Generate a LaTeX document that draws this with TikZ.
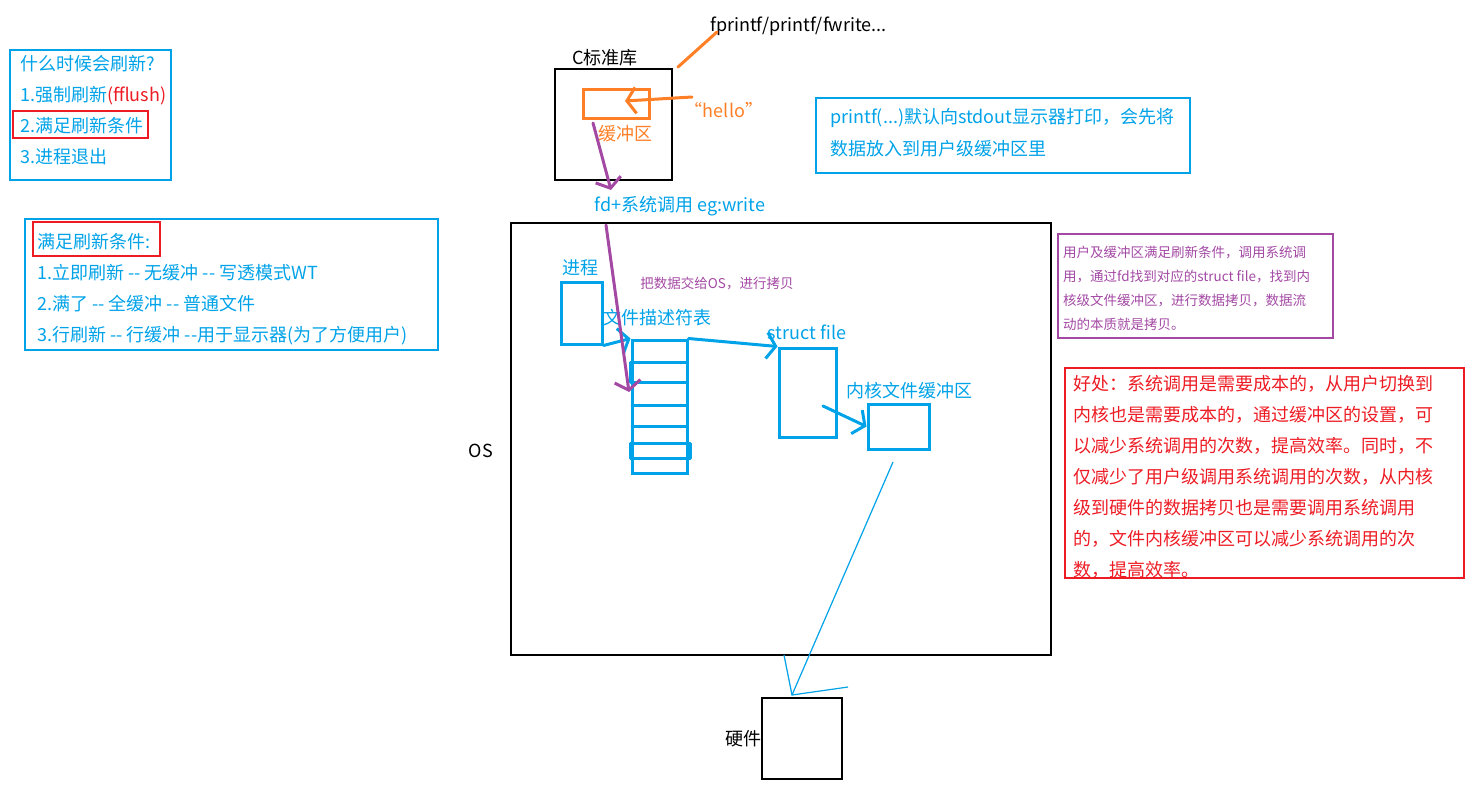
\documentclass[tikz,border=0pt]{standalone}
\usepackage{fontspec}
\setmainfont{Noto Sans CJK SC}
\usetikzlibrary{arrows.meta}
\definecolor{inkblue}{RGB}{0,162,232}
\definecolor{inkorange}{RGB}{255,127,39}
\definecolor{inkpurple}{RGB}{163,73,164}
\definecolor{inkred}{RGB}{237,28,36}
\newcommand\dd{-{}-}
\tikzset{
  memo/.style={anchor=north west,inner sep=0pt,align=left,font=\fontsize{18}{31}\selectfont},
  smallmemo/.style={anchor=north west,inner sep=0pt,align=left,font=\fontsize{13.5}{24}\selectfont},
  label/.style={inner sep=0pt,font=\fontsize{18}{22}\selectfont},
  thinbox/.style={draw,line width=1.2pt,inner sep=0pt},
  pen/.style={line width=3pt,line join=round,line cap=round},
  barb/.style={-{Straight Barb[length=9pt,width=26pt]}},
}
\begin{document}
\begin{tikzpicture}[x=1pt,y=-1pt]
\useasboundingbox (0,0) rectangle (1480,800);
\draw[inkblue,line width=1.2pt] (10,50) rectangle (171,180);
\node[memo,text=inkblue] (when) at (20,55) {什么时候会刷新?\\1.强制刷新{\color{inkred}(fflush)}\\2.满足刷新条件\\3.进程退出};
\draw[inkred,line width=1.2pt] (13,111) rectangle (148,138);
\draw[inkblue,line width=1.2pt] (25,219) rectangle (438,350);
\node[memo,text=inkblue] (cond) at (37,233) {满足刷新条件:\\1.立即刷新 \dd{} 无缓冲 \dd{} 写透模式WT\\2.满了 \dd{} 全缓冲 \dd{} 普通文件\\3.行刷新 \dd{} 行缓冲 \dd{}用于显示器(为了方便用户)};
\draw[inkred,line width=1.2pt] (33,222) rectangle (160,256);
\node[label,anchor=west] (funcs) at (710,26) {fprintf/printf/fwrite...};
\node[label] (clibname) at (605,58) {C标准库};
\node[thinbox,minimum width=117,minimum height=111] (clib) at (613.5,124.5) {};
\node[draw=inkorange,line width=3pt,inner sep=0pt,minimum width=66,minimum height=29] (buf) at (616,103.5) {};
\node[label,text=inkorange] (bufname) at (625,134) {缓冲区};
\node[label,text=inkorange] (hello) at (724,110) {“hello”};
\coordinate (f1) at (717,32);
\coordinate (f2) at (678,67);
\draw[inkorange,pen] (f1) -- (f2);
\coordinate (h1) at (692,97);
\coordinate (h2) at (625,101);
\draw[inkorange,pen,barb] (h1) -- (h2);
\coordinate (p1) at (593,123);
\coordinate (p2) at (611,190);
\draw[inkpurple,pen,barb] (p1) -- (p2);
\node[label,text=inkblue] (syscall) at (680,206) {fd+系统调用 eg:write};
\node[thinbox,minimum width=540,minimum height=432] (os) at (781,439) {};
\node[label] (osname) at (481,451) {OS};
\node[label,text=inkblue] (procname) at (580,268) {进程};
\node[draw=inkblue,line width=3pt,inner sep=0pt,minimum width=41,minimum height=62] (proc) at (581.5,313) {};
\node[smallmemo,anchor=center,text=inkpurple] (copy) at (717,283) {把数据交给OS，进行拷贝};
\node[label,text=inkblue] (fdname) at (657,318) {文件描述符表};
\node[draw=inkblue,line width=3pt,inner sep=0pt,minimum width=55,minimum height=133] (fdt) at (659.5,406.5) {};
\foreach \y in {362,382,405,426,443,458} \draw[inkblue,pen] (632,\y) -- (687,\y);
\draw[inkblue,pen] (630,362) rectangle (687,382);
\draw[inkblue,pen] (630,443) rectangle (690,458);
\draw[inkblue,pen,barb] (proc.south east) -- (fdt.north west);
\coordinate (q1) at (606,225);
\coordinate (q2) at (629,392);
\draw[inkpurple,pen,barb] (q1) -- (q2);
\node[label,text=inkblue] (sfname) at (807,332) {struct file};
\node[draw=inkblue,line width=3pt,inner sep=0pt,minimum width=57,minimum height=89] (sfile) at (807.5,392.5) {};
\draw[inkblue,pen,barb] (fdt.north east) -- (sfile.north west);
\node[label,text=inkblue] (kbname) at (909,391) {内核文件缓冲区};
\node[draw=inkblue,line width=3pt,inner sep=0pt,minimum width=61,minimum height=45] (kbuf) at (898.5,426.5) {};
\coordinate (s1) at (823,406);
\draw[inkblue,pen,barb] (s1) -- (kbuf.west);
\node[thinbox,minimum width=80,minimum height=81] (hw) at (802,738.5) {};
\node[label,anchor=east] (hwname) at (hw.west) {硬件};
\coordinate (k1) at (893,462);
\coordinate (k2) at (792,695);
\coordinate (kl) at (784,655);
\coordinate (kr) at (848,687);
\draw[inkblue,line width=1.2pt] (k1) -- (k2);
\draw[inkblue,line width=1.2pt] (kl) -- (k2) -- (kr);
\draw[inkblue,line width=1.2pt] (816,98) rectangle (1190,173);
\node[memo,font=\fontsize{18}{32}\selectfont,text=inkblue] (printf) at (830,108) {printf(...)默认向stdout显示器打印，会先将\\数据放入到用户级缓冲区里};
\draw[inkpurple,line width=1.2pt] (1058,234) rectangle (1333,338);
\node[smallmemo,text=inkpurple] (flow) at (1063,246) {用户及缓冲区满足刷新条件，调用系统调\\用，通过fd找到对应的struct file，找到内\\核级文件缓冲区，进行数据拷贝，数据流\\动的本质就是拷贝。};
\begin{scope}
\clip (1065,368) rectangle (1464,578);
\node[memo,text=inkred] (gain) at (1073,375) {好处：系统调用是需要成本的，从用户切换到\\内核也是需要成本的，通过缓冲区的设置，可\\以减少系统调用的次数，提高效率。同时，不\\仅减少了用户级调用系统调用的次数，从内核\\级到硬件的数据拷贝也是需要调用系统调用\\的，文件内核缓冲区可以减少系统调用的次\\数，提高效率。};
\end{scope}
\draw[inkred,line width=1.2pt] (1065,368) rectangle (1464,578);
\end{tikzpicture}
\end{document}
